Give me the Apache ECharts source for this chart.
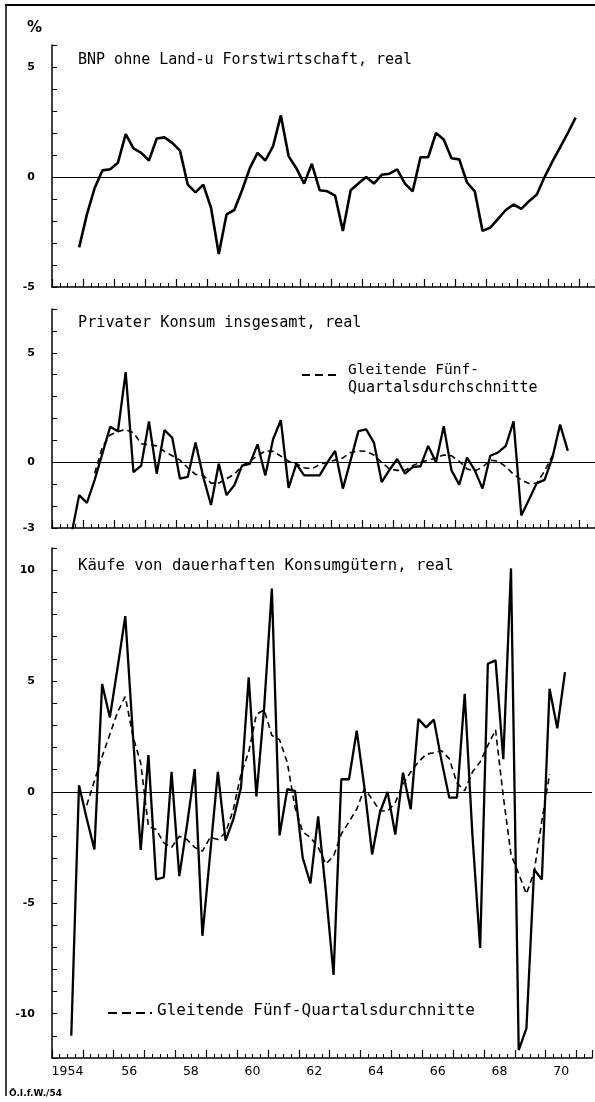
<!DOCTYPE html>
<html>
<head>
<meta charset="utf-8">
<script src="https://cdn.jsdelivr.net/npm/echarts/dist/echarts.min.js"></script>
<style>
html, body { margin: 0; padding: 0; background: #fff; }
#chart { width: 595px; height: 1102px; }
</style>
</head>
<body>
<div id="chart"></div>
<script>
// Quartale 1954 Q1 .. 1971 Q2
const years = [1954, 1955, 1956, 1957, 1958, 1959, 1960, 1961, 1962, 1963, 1964, 1965, 1966, 1967, 1968, 1969, 1970, 1971];
const quarters = years.flatMap(y => ['Q1', 'Q2', 'Q3', 'Q4'].map(q => y + ' ' + q)).slice(0, 70);
const yearLabels = ['1954', '56', '58', '60', '62', '64', '66', '68', '70'];

// BNP ohne Land- u. Forstwirtschaft, real (ab 1954 Q4)
const bnpFrom = '1954 Q4';
const bnp = [-3.2, -1.7, -0.5, 0.3, 0.35, 0.65, 1.95, 1.3, 1.1, 0.75,
  1.75, 1.8, 1.55, 1.2, -0.35, -0.7, -0.35, -1.4, -3.5, -1.7,
  -1.5, -0.6, 0.4, 1.1, 0.75, 1.4, 2.8, 0.95, 0.4, -0.3,
  0.6, -0.6, -0.65, -0.85, -2.45, -0.6, -0.3, 0.0, -0.3, 0.1,
  0.15, 0.35, -0.3, -0.65, 0.9, 0.9, 2.0, 1.7, 0.85, 0.8,
  -0.25, -0.65, -2.45, -2.3, -1.9, -1.5, -1.25, -1.45, -1.1, -0.8,
  0.0, 0.7, 1.35, 2.0, 2.7];

// Privater Konsum insgesamt, real
const konsumFrom = '1954 Q3';
const konsum = [-3.3, -1.5, -1.85, -0.8, 0.4, 1.62, 1.42, 4.12, -0.45, -0.15,
  1.87, -0.52, 1.47, 1.12, -0.75, -0.67, 0.9, -0.67, -1.95, -0.07,
  -1.5, -1.05, -0.15, -0.07, 0.82, -0.6, 1.05, 1.92, -1.17, -0.07,
  -0.6, -0.6, -0.6, 0.0, 0.52, -1.2, 0.1, 1.42, 1.5, 0.9,
  -0.9, -0.35, 0.15, -0.52, -0.22, -0.18, 0.75, 0.0, 1.65, -0.37,
  -1.02, 0.22, -0.37, -1.2, 0.3, 0.45, 0.75, 1.87, -2.43, -1.7,
  -0.95, -0.8, 0.2, 1.72, 0.52];
const konsumAvgFrom = '1955 Q2';
const konsumAvg = [-0.5, 0.7, 1.25, 1.4, 1.5, 1.35, 0.85, 0.8, 0.75, 0.5,
  0.3, 0.1, -0.25, -0.55, -0.6, -0.95, -0.95, -0.75, -0.55, -0.15,
  0.05, 0.3, 0.52, 0.5, 0.28, 0.05, -0.07, -0.25, -0.3, -0.1,
  0.0, 0.1, 0.2, 0.45, 0.52, 0.5, 0.33, 0.0, -0.3, -0.37,
  -0.37, -0.15, 0.0, 0.1, 0.2, 0.33, 0.3, 0.05, -0.3, -0.4,
  -0.22, 0.1, 0.05, -0.2, -0.55, -0.8, -0.97, -0.95, -0.4, 0.3];

// Käufe von dauerhaften Konsumgütern, real
const kaeufeFrom = '1954 Q3';
const kaeufe = [-11.0, 0.3, -1.2, -2.6, 4.87, 3.36, 5.6, 7.93, 2.53, -2.62,
  1.66, -3.95, -3.85, 0.9, -3.8, -1.5, 1.03, -6.49, -2.8, 0.9,
  -2.2, -1.24, 0.2, 5.17, -0.2, 3.8, 9.17, -1.96, 0.12, 0.05,
  -2.97, -4.13, -1.1, -4.5, -8.25, 0.57, 0.57, 2.76, 0.2, -2.82,
  -0.94, 0.0, -1.92, 0.87, -0.78, 3.29, 2.91, 3.26, 1.4, -0.26,
  -0.26, 4.42, -1.95, -7.04, 5.78, 5.93, 1.48, 10.08, -11.64, -10.66,
  -3.5, -3.95, 4.65, 2.87, 5.4];
const kaeufeAvgFrom = '1955 Q1';
const kaeufeAvg = [-0.6, 0.5, 1.6, 2.6, 3.6, 4.3, 2.5, 1.3, -1.55, -1.7,
  -2.3, -2.5, -2.0, -2.15, -2.5, -2.67, -2.05, -2.15, -1.84, -0.8,
  0.8, 1.8, 3.5, 3.7, 2.55, 2.35, 1.33, -0.7, -1.8, -2.05,
  -2.5, -3.25, -2.9, -1.9, -1.35, -0.78, 0.15, -0.33, -0.85, -0.87,
  -0.48, 0.35, 0.9, 1.35, 1.7, 1.77, 1.85, 1.5, 0.4, 0.05,
  0.9, 1.35, 2.1, 2.8, -0.2, -2.82, -3.7, -4.6, -3.6, -1.3,
  0.8];

const FONT = '"DejaVu Sans", sans-serif';
const LETTER = '"DejaVu Sans Mono", monospace';

// an Quartalsachse ausrichten
function onQuarters(from, vals) {
  const s = quarters.indexOf(from);
  return vals.map((v, i) => [quarters[s + i], v]);
}

const panels = [
  { top: 45, height: 242, min: -5, max: 6, labels: [5, 0, -5] },
  { top: 309, height: 219, min: -3, max: 7, labels: [5, 0, -3] },
  { top: 548, height: 510, min: -12, max: 11, labels: [10, 5, 0, -5, -10] }
];

const grid = panels.map(p => ({ left: 52, right: 0, top: p.top, height: p.height }));

const xAxis = [];
const yAxis = [];
const qAxis = [];
panels.forEach((p, g) => {
  qAxis.push(xAxis.length);
  xAxis.push({
    type: 'category', gridIndex: g, data: quarters, boundaryGap: true, position: 'bottom',
    axisLine: { show: true, onZero: false, lineStyle: { color: '#000', width: 1.5 } },
    axisTick: { show: true, inside: true, interval: 0, length: 4, lineStyle: { color: '#000', width: 1 } },
    axisLabel: { show: false }, splitLine: { show: false }
  });
  xAxis.push({
    type: 'value', gridIndex: g, min: 1954, max: 1971.5, interval: 1, position: 'bottom',
    axisLine: { show: false, onZero: false },
    axisTick: { show: true, inside: true, length: 8, lineStyle: { color: '#000', width: 1.2 } },
    axisLabel: { show: false }, splitLine: { show: false }
  });
  if (g === 2) {
    xAxis.push({
      type: 'value', gridIndex: g, min: 1954, max: 1971.5, interval: 0.5, position: 'bottom',
      axisLine: { show: false, onZero: false }, axisTick: { show: false }, splitLine: { show: false },
      axisLabel: {
        margin: 7, color: '#000', fontFamily: FONT, fontSize: 12.5,
        formatter: v => {
          const i = (v - 1954.5) / 2;
          return Number.isInteger(i) && i >= 0 && i < yearLabels.length ? yearLabels[i] : '';
        }
      }
    });
  }
  yAxis.push({
    type: 'value', gridIndex: g, min: p.min, max: p.max, interval: 1,
    axisLine: { show: true, onZero: false, lineStyle: { color: '#000', width: 1.5 } },
    axisTick: { show: true, inside: true, length: 5, lineStyle: { color: '#000', width: 1 } },
    axisLabel: {
      margin: 17, color: '#000', fontFamily: FONT, fontSize: 11, fontWeight: 'bold',
      formatter: v => p.labels.includes(v) ? String(v) : ''
    },
    splitLine: { show: false }
  });
});

const zeroLine = {
  silent: true, symbol: 'none', animation: false,
  label: { show: false },
  lineStyle: { color: '#000', width: 1, type: 'solid' },
  data: [{ yAxis: 0 }]
};

function solid(g, data, w) {
  return {
    type: 'line', xAxisIndex: qAxis[g], yAxisIndex: g, data: data,
    symbol: 'none', showSymbol: false, clip: true,
    lineStyle: { color: '#000', width: w },
    markLine: zeroLine
  };
}
function dashed(g, data) {
  return {
    type: 'line', xAxisIndex: qAxis[g], yAxisIndex: g, data: data,
    symbol: 'none', showSymbol: false, clip: true,
    lineStyle: { color: '#000', width: 1.6, type: [6, 4] }
  };
}

const txt = (text, left, top, size, weight, family) => ({
  type: 'text', left: left, top: top, silent: true,
  style: { text: text, fill: '#000', font: (weight || 'normal') + ' ' + size + 'px ' + (family || LETTER) }
});
const ln = (x1, y1, x2, y2, w, dash) => ({
  type: 'line', silent: true, shape: { x1: x1, y1: y1, x2: x2, y2: y2 },
  style: { stroke: '#000', lineWidth: w, lineDash: dash || null }
});

const chart = echarts.init(document.getElementById('chart'));
chart.setOption({
  animation: false,
  backgroundColor: '#fff',
  grid: grid,
  xAxis: xAxis,
  yAxis: yAxis,
  series: [
    solid(0, onQuarters(bnpFrom, bnp), 2.6),
    solid(1, onQuarters(konsumFrom, konsum), 2.3),
    dashed(1, onQuarters(konsumAvgFrom, konsumAvg)),
    solid(2, onQuarters(kaeufeFrom, kaeufe), 2.3),
    dashed(2, onQuarters(kaeufeAvgFrom, kaeufeAvg))
  ],
  graphic: [
    ln(5, 5, 595, 5, 2),
    ln(6, 5, 6, 1096, 1.5),
    txt('%', 27, 21, 15, 'bold', FONT),
    txt('BNP ohne Land-u Forstwirtschaft, real', 78, 53, 15),
    txt('Privater Konsum insgesamt, real', 78, 316, 15.2),
    ln(302, 375, 340, 375, 2, [8, 5]),
    txt('Gleitende Fünf-', 348, 363, 14.5),
    txt('Quartalsdurchschnitte', 348, 381, 15),
    txt('Käufe von dauerhaften Konsumgütern, real', 78, 558, 15.6),
    ln(108, 1013, 152, 1013, 2, [9, 5]),
    txt('Gleitende Fünf-Quartalsdurchnitte', 157, 1003, 16),
    txt('Ö.I.f.W./54', 9, 1089, 9, 'bold', FONT)
  ]
});
</script>
</body>
</html>
